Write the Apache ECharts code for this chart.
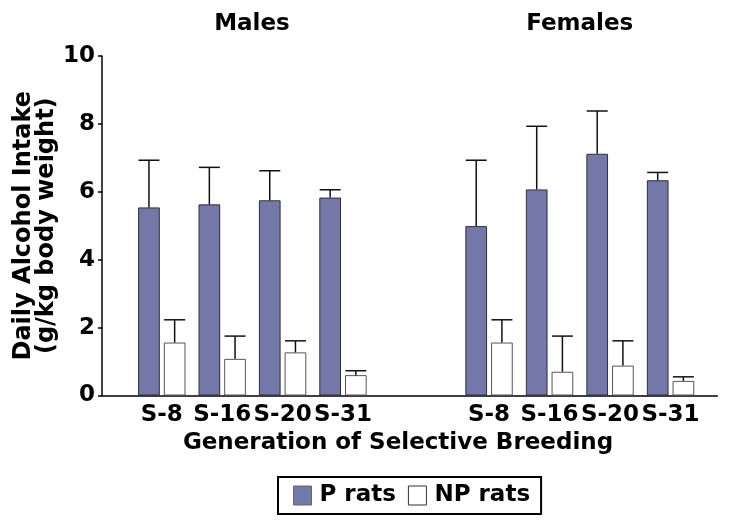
<!DOCTYPE html>
<html>
<head>
<meta charset="utf-8">
<script src="https://cdn.jsdelivr.net/npm/echarts@6/dist/echarts.min.js"></script>
<style>html,body{margin:0;padding:0;background:#fff;}#c{width:733px;height:531px;}</style>
</head>
<body>
<div id="c"></div>
<script>
// ---- data ----
const categories = ['S-8', 'S-16', 'S-20', 'S-31'];
const yTicks = [0, 2, 4, 6, 8, 10];
const malesP = [5.54, 5.63, 5.75, 5.83];
const malesPErr = [1.39, 1.09, 0.87, 0.23];
const malesNP = [1.56, 1.08, 1.27, 0.60];
const malesNPErr = [0.67, 0.67, 0.34, 0.13];
const femalesP = [4.99, 6.07, 7.12, 6.34];
const femalesPErr = [1.94, 1.86, 1.26, 0.23];
const femalesNP = [1.56, 0.70, 0.88, 0.43];
const femalesNPErr = [0.67, 1.05, 0.73, 0.12];

// ---- layout / style ----
const FONT = 'DejaVu Sans';
const BAR_W = 21.7, BAR_GAP_PX = 4;
const OFFSET = (BAR_W + BAR_GAP_PX) / 2;
const CAP = 21;
const P_COLOR = '#7378a8';
const TOP = 56, HEIGHT = 339.5;

function errData(means, errs) {
  return means.map((m, i) => [i, m, errs[i]]);
}
function errRender(sign) {
  return function (params, api) {
    const i = api.value(0), m = api.value(1), e = api.value(2);
    const base = api.coord([i, m]);
    const top = api.coord([i, m + e]);
    const x = base[0] + sign * OFFSET;
    const st = { stroke: '#111', lineWidth: 1.5 };
    return {
      type: 'group',
      children: [
        { type: 'line', shape: { x1: x, y1: base[1], x2: x, y2: top[1] }, style: st },
        { type: 'line', shape: { x1: x - CAP / 2, y1: top[1], x2: x + CAP / 2, y2: top[1] }, style: st }
      ]
    };
  };
}

const labelStyle = { fontFamily: FONT, fontWeight: 'bold', fontSize: 23, color: '#000' };

function catX(gi) {
  return {
    type: 'category', gridIndex: gi, data: categories,
    axisLine: { show: false }, axisTick: { show: false },
    axisLabel: Object.assign({ margin: 8, interval: 0 }, labelStyle)
  };
}
function hiddenY(gi) {
  return { type: 'value', gridIndex: gi, min: 0, max: 10, interval: 2, show: false, splitLine: { show: false } };
}
function barSeries(name, gi, data, isP) {
  return {
    name: name, type: 'bar', xAxisIndex: gi, yAxisIndex: gi, data: data,
    barWidth: BAR_W, barGap: (BAR_GAP_PX / BAR_W * 100) + '%',
    itemStyle: isP ? { color: P_COLOR, borderColor: '#2e2e3c', borderWidth: 1 }
                   : { color: '#fff', borderColor: '#555', borderWidth: 1 },
    z: 2
  };
}
function errSeries(gi, means, errs, sign) {
  return {
    type: 'custom', xAxisIndex: gi, yAxisIndex: gi,
    data: errData(means, errs), encode: { x: 0, y: 1 },
    renderItem: errRender(sign), z: 3, silent: true
  };
}

const chart = echarts.init(document.getElementById('c'), null, { renderer: 'canvas' });
chart.setOption({
  animation: false,
  backgroundColor: '#fff',
  grid: [
    { left: 102, top: TOP, width: 615.3, height: HEIGHT },
    { left: 131.6, top: TOP, width: 241.6, height: HEIGHT },
    { left: 458.8, top: TOP, width: 242, height: HEIGHT }
  ],
  xAxis: [
    { type: 'value', gridIndex: 0, min: 0, max: 1, axisLine: { show: true, lineStyle: { color: '#000', width: 1.5 } },
      axisTick: { show: false }, axisLabel: { show: false }, splitLine: { show: false } },
    catX(1), catX(2)
  ],
  yAxis: [
    { type: 'value', gridIndex: 0, min: yTicks[0], max: yTicks[yTicks.length - 1], interval: 2,
      axisLine: { show: true, lineStyle: { color: '#000', width: 1.5 } },
      axisTick: { show: true, length: 4, lineStyle: { color: '#000', width: 1.5 } },
      axisLabel: Object.assign({ margin: 7 }, labelStyle),
      splitLine: { show: false },
      name: 'Daily Alcohol Intake\n(g/kg body weight)', nameLocation: 'middle', nameGap: 44,
      nameMoveOverlap: false,
      nameTextStyle: { fontFamily: FONT, fontWeight: 'bold', fontSize: 24, lineHeight: 23, color: '#000' }
    },
    hiddenY(1), hiddenY(2)
  ],
  legend: {
    left: 278, top: 477, orient: 'horizontal',
    data: [
      { name: 'P rats', icon: 'rect', itemStyle: { color: P_COLOR, borderColor: '#666', borderWidth: 1 } },
      { name: 'NP rats', icon: 'rect', itemStyle: { color: '#fff', borderColor: '#333', borderWidth: 1 } }
    ],
    itemWidth: 18, itemHeight: 19, itemGap: 12,
    padding: [7, 11, 7, 15],
    borderColor: '#000', borderWidth: 2,
    textStyle: Object.assign({ padding: [0, 0, 0, 3] }, labelStyle),
    selectedMode: false
  },
  graphic: [
    { type: 'text', x: 252, y: 24, style: { text: 'Males', textAlign: 'center', textVerticalAlign: 'middle', font: 'bold 23px "DejaVu Sans"', fill: '#000' } },
    { type: 'text', x: 579.7, y: 24, style: { text: 'Females', textAlign: 'center', textVerticalAlign: 'middle', font: 'bold 23px "DejaVu Sans"', fill: '#000' } },
    { type: 'text', x: 398, y: 443, style: { text: 'Generation of Selective Breeding', textAlign: 'center', textVerticalAlign: 'middle', font: 'bold 23px "DejaVu Sans"', fill: '#000' } }
  ],
  series: [
    barSeries('P rats', 1, malesP, true),
    barSeries('NP rats', 1, malesNP, false),
    barSeries('P rats', 2, femalesP, true),
    barSeries('NP rats', 2, femalesNP, false),
    errSeries(1, malesP, malesPErr, -1),
    errSeries(1, malesNP, malesNPErr, 1),
    errSeries(2, femalesP, femalesPErr, -1),
    errSeries(2, femalesNP, femalesNPErr, 1)
  ]
});
</script>
</body>
</html>
